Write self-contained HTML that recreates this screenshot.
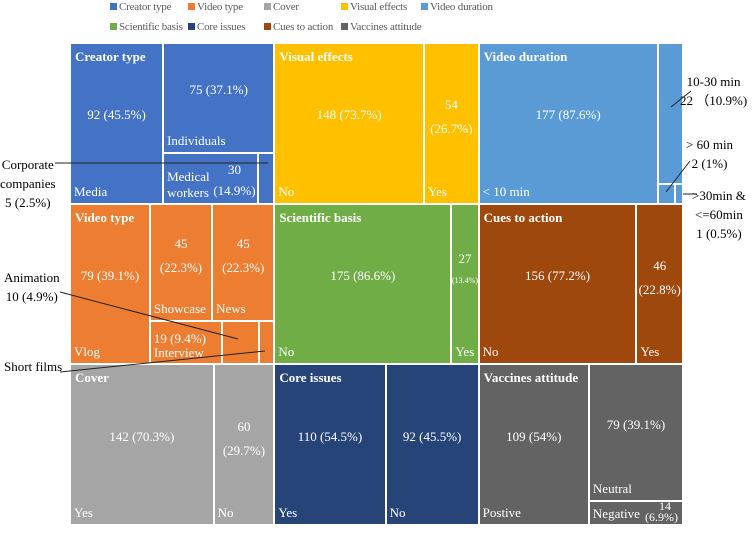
<!DOCTYPE html>
<html><head><meta charset="utf-8">
<style>
body{margin:0;background:#fff;width:753px;height:533px;overflow:hidden;font-family:"Liberation Serif",serif;}
#root{position:relative;width:753px;height:533px;}
.leaf{position:absolute;box-sizing:border-box;}
.t{position:absolute;color:#fff;font-size:13px;line-height:16px;white-space:nowrap;}
.ttl{font-weight:bold;}
.lg{position:absolute;font-size:11px;color:#595959;line-height:14px;white-space:nowrap;letter-spacing:-0.2px;}
.lgsq{position:absolute;width:7px;height:7px;}
.ann{position:absolute;font-size:13px;color:#000;line-height:19px;text-align:center;white-space:nowrap;}
</style></head><body>
<div id="root">
<svg id="lines" width="753" height="533" style="position:absolute;left:0;top:0;z-index:5"></svg>
</div>
<script>
// data arrays
const categories=["Creator type","Video type","Cover","Visual effects","Video duration","Scientific basis","Core issues","Cues to action","Vaccines attitude"];
const colors=["#4472C4","#ED7D31","#A5A5A5","#FFC000","#5B9BD5","#70AD47","#264478","#9E480E","#636363"];
const creatorNames=["Media","Individuals","Medical workers","Corporate companies"];
const creatorValues=[92,75,30,5];
const creatorPct=["45.5%","37.1%","14.9%","2.5%"];
const videoTypeNames=["Vlog","Showcase","News","Interview","Animation","Short films"];
const videoTypeValues=[79,45,45,19,10,4];
const videoTypePct=["39.1%","22.3%","22.3%","9.4%","4.9%","2%"];
const coverNames=["Yes","No"];const coverValues=[142,60];const coverPct=["70.3%","29.7%"];
const visualNames=["No","Yes"];const visualValues=[148,54];const visualPct=["73.7%","26.7%"];
const durationNames=["< 10 min","10-30 min","> 60 min",">30min & <=60min"];
const durationValues=[177,22,2,1];const durationPct=["87.6%","10.9%","1%","0.5%"];
const sciNames=["No","Yes"];const sciValues=[175,27];const sciPct=["86.6%","13.4%"];
const coreNames=["Yes","No"];const coreValues=[110,92];const corePct=["54.5%","45.5%"];
const cuesNames=["No","Yes"];const cuesValues=[156,46];const cuesPct=["77.2%","22.8%"];
const vaccNames=["Postive","Neutral","Negative"];const vaccValues=[109,79,14];const vaccPct=["54%","39.1%","6.9%"];

const root=document.getElementById('root');
const svg=document.getElementById('lines');
const X0=70,X1=683,Y0=43,Y1=525;
const colX=c=>X0+(X1-X0)*c/3, rowY=r=>Y0+(Y1-Y0)*r/3;

function sum(node,vals){return typeof node==='number'?vals[node]:node.c.reduce((a,n)=>a+sum(n,vals),0);}
function lay(node,vals,r,out){
  if(typeof node==='number'){out[node]=r;return;}
  const tot=sum(node,vals);let off=0;
  node.c.forEach(n=>{const f=sum(n,vals)/tot;
    if(node.d==='h'){const w=r.w*f;lay(n,vals,{x:r.x+off,y:r.y,w:w,h:r.h},out);off+=w;}
    else{const h=r.h*f;lay(n,vals,{x:r.x,y:r.y+off,w:r.w,h:h},out);off+=h;}});
}
const panels=[
 {ci:0,names:creatorNames,vals:creatorValues,pct:creatorPct,tree:{d:'h',c:[0,{d:'v',c:[1,{d:'h',c:[2,3]}]}]},col:0,row:0,hide:[2,3]},
 {ci:3,names:visualNames,vals:visualValues,pct:visualPct,tree:{d:'h',c:[0,1]},col:1,row:0},
 {ci:4,names:durationNames,vals:durationValues,pct:durationPct,tree:{d:'h',c:[0,{d:'v',c:[1,{d:'h',c:[2,3]}]}]},col:2,row:0,hide:[1,2,3]},
 {ci:1,names:videoTypeNames,vals:videoTypeValues,pct:videoTypePct,tree:{d:'h',c:[0,{d:'v',c:[{d:'h',c:[1,2]},{d:'h',c:[3,4,5]}]}]},col:0,row:1,hide:[3,4,5]},
 {ci:5,names:sciNames,vals:sciValues,pct:sciPct,tree:{d:'h',c:[0,1]},col:1,row:1,hide:[1]},
 {ci:7,names:cuesNames,vals:cuesValues,pct:cuesPct,tree:{d:'h',c:[0,1]},col:2,row:1},
 {ci:2,names:coverNames,vals:coverValues,pct:coverPct,tree:{d:'h',c:[0,1]},col:0,row:2},
 {ci:6,names:coreNames,vals:coreValues,pct:corePct,tree:{d:'h',c:[0,1]},col:1,row:2},
 {ci:8,names:vaccNames,vals:vaccValues,pct:vaccPct,tree:{d:'h',c:[0,{d:'v',c:[1,2]}]},col:2,row:2,hide:[2]}
];
function txt(s,x,y,cls,extra){const d=document.createElement('div');d.className='t '+(cls||'');d.innerHTML=s;d.style.left=x+'px';d.style.top=y+'px';if(extra)Object.assign(d.style,extra);root.appendChild(d);return d;}
panels.forEach(p=>{
  const r={x:colX(p.col),y:rowY(p.row),w:colX(p.col+1)-colX(p.col),h:rowY(p.row+1)-rowY(p.row)};
  const out=[];lay(p.tree,p.vals,r,out);
  out.forEach((q,i)=>{
    const d=document.createElement('div');d.className='leaf';
    d.style.left=(q.x+1)+'px';d.style.top=(q.y+1)+'px';d.style.width=(q.w-2)+'px';d.style.height=(q.h-2)+'px';
    d.style.background=colors[p.ci];
    
    
    root.appendChild(d);
    const hidden=(p.hide||[]).includes(i);
    const lbl=p.vals[i]+' ('+p.pct[i]+')';
    if(!hidden){
      const cy=q.y+q.h/2-8;
      if(q.w>72){const t=txt(lbl,q.x,cy-8);t.style.width=q.w+'px';t.style.textAlign='center';}
      else{txt(p.vals[i]+'<br>('+p.pct[i]+')',q.x,cy-22,'',{width:q.w+'px',textAlign:'center',lineHeight:'24px'});}
      if(q.w>10) txt(p.names[i],q.x+4,q.y+q.h-20);
    }
  });
  if(p.ci===0){const q=out[2];txt('Medical<br>workers',q.x+4,q.y+q.h-35,'',{lineHeight:'16px'});txt(p.vals[2]+'<br>('+p.pct[2]+')',q.x+q.w-46,q.y+6,'',{textAlign:'center',lineHeight:'21px',width:'44px'});}
  if(p.ci===1){const q=out[3];txt(p.vals[3]+' ('+p.pct[3]+')',q.x+4,q.y+10);txt('Interview',q.x+4,q.y+q.h-19);}
  if(p.ci===5){const q=out[1];txt(p.vals[1],q.x,q.y+47,'',{width:q.w+'px',textAlign:'center'});txt('('+p.pct[1]+')',q.x-2,q.y+69,'',{fontSize:'8px',width:(q.w+4)+'px',textAlign:'center'});txt('Yes',q.x+4,q.y+q.h-20);}
  if(p.ci===8){const q=out[2];txt('Negative',q.x+4,q.y+q.h-19);txt(p.vals[2],q.x+q.w-24,q.y-1,'',{fontSize:'12px',lineHeight:'12px'});txt('('+p.pct[2]+')',q.x+q.w-38,q.y+10,'',{fontSize:'12px',lineHeight:'12px'});}
  const t=txt(categories[p.ci],r.x+5,r.y+6,'ttl');
  
});
// legend
const lgX=[110,188,264,341,421],lgY=[7,27];
categories.forEach((c,i)=>{
  const row=i<5?0:1,col=i<5?i:i-5;
  const s=document.createElement('div');s.className='lgsq';s.style.background=colors[i];
  s.style.left=lgX[col]+'px';s.style.top=(lgY[row]-4)+'px';
  root.appendChild(s);
  const t=document.createElement('div');t.className='lg';t.textContent=c;
  t.style.left=(lgX[col]+9)+'px';t.style.top=(lgY[row]-7)+'px';
  root.appendChild(t);
});
function ann(html,x,y,name){const d=document.createElement('div');d.className='ann';d.innerHTML=html;d.style.left=x+'px';d.style.top=y+'px';
 root.appendChild(d);}
ann('Corporate<br>companies<br>5 (2.5%)',0,155,'annotation-corporate');
ann('Animation<br>10 (4.9%)',4,268,'annotation-animation');
ann('Short films',4,357,'annotation-short-films');
ann('10-30 min<br>22 （10.9%)',680,72,'annotation-10-30-min');
ann('&gt; 60 min<br>2 (1%)',686,135,'annotation-over-60');
ann('&gt;30min &amp;<br>&lt;=60min<br>1 (0.5%)',692,186,'annotation-30-60');
const L=[[55,163,268,163],[60,292,238,339],[60,372,265,351],[691,91,671,107],[690,161,666,192],[683,194,697,194]];
L.forEach(l=>{const e=document.createElementNS('http://www.w3.org/2000/svg','line');
 e.setAttribute('x1',l[0]);e.setAttribute('y1',l[1]);e.setAttribute('x2',l[2]);e.setAttribute('y2',l[3]);
 e.setAttribute('stroke','#222');e.setAttribute('stroke-width','1');
 
 
 svg.appendChild(e);});
</script>
</body></html>
